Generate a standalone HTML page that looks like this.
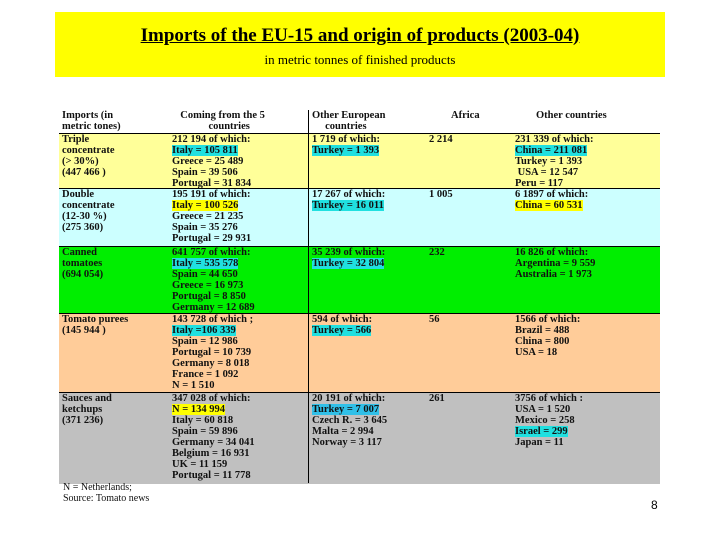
<!DOCTYPE html>
<html><head><meta charset="utf-8"><style>
body{margin:0;width:720px;height:540px;background:#fff;position:relative;overflow:hidden;font-family:"Liberation Serif",serif}
.title{position:absolute;left:55px;top:12px;width:610px;height:65px;background:#ffff00}
.title h1{margin:0;position:absolute;top:13px;width:100%;text-align:center;font-size:19px;line-height:22px;font-weight:bold;text-decoration:underline}
.title p{margin:0;position:absolute;top:40px;width:100%;text-align:center;font-size:13px;line-height:15px}
.row{position:absolute;left:59px;width:601px;border-top:1px solid #000}
.c{position:absolute;top:0px;font-size:10.5px;font-weight:bold;line-height:11px;white-space:pre;color:#111}
.hc{background:#20e0e0}.hy{background:#ffff00}.hb{background:#30c0e8}
.vl{position:absolute;left:308px;top:110px;width:1px;height:373px;background:#000}
.note{position:absolute;left:63px;font-size:10px;color:#111}
</style></head><body>
<div class="title"><h1>Imports of the EU-15 and origin of products (2003-04)</h1><p>in metric tonnes of finished products</p></div>

<div class="row" style="top:110px;height:23px;border-top:none;background:#fff">
<div class="c" style="left:3px">Imports (in
metric tones)</div>
<div class="c" style="left:116px;text-align:center">  Coming from the 5
       countries</div>
<div class="c" style="left:253px">Other European
     countries</div>
<div class="c" style="left:392px">Africa</div>
<div class="c" style="left:477px">Other countries</div></div>

<div class="row" style="top:133px;height:55px;background:#ffff99">
<div class="c" style="left:3px">Triple
concentrate
(> 30%)
(447 466 )</div>
<div class="c" style="left:113px">212 194 of which:
<span class="hc">Italy = 105 811</span>
Greece = 25 489
Spain = 39 506
Portugal = 31 834</div>
<div class="c" style="left:253px">1 719 of which:
<span class="hc">Turkey = 1 393</span></div>
<div class="c" style="left:370px">2 214</div>
<div class="c" style="left:456px">231 339 of which:
<span class="hc">China = 211 081</span>
Turkey = 1 393
 USA = 12 547
Peru = 117</div></div>

<div class="row" style="top:188px;height:57px;background:#ccffff">
<div class="c" style="left:3px">Double
concentrate
(12-30 %)
(275 360)</div>
<div class="c" style="left:113px">195 191 of which:
<span class="hy">Italy = 100 526</span>
Greece = 21 235
Spain = 35 276
Portugal = 29 931</div>
<div class="c" style="left:253px">17 267 of which:
<span class="hc">Turkey = 16 011</span></div>
<div class="c" style="left:370px">1 005</div>
<div class="c" style="left:456px">6 1897 of which:
<span class="hy">China = 60 531</span></div></div>

<div class="row" style="top:246px;height:67px;background:#00ee00">
<div class="c" style="left:3px">Canned
tomatoes
(694 054)</div>
<div class="c" style="left:113px">641 757 of which:
<span class="hc">Italy = 535 578</span>
Spain = 44 650
Greece = 16 973
Portugal = 8 850
Germany = 12 689</div>
<div class="c" style="left:253px">35 239 of which:
<span class="hc">Turkey = 32 804</span></div>
<div class="c" style="left:370px">232</div>
<div class="c" style="left:456px">16 826 of which:
Argentina = 9 559
Australia = 1 973</div></div>

<div class="row" style="top:313px;height:79px;background:#ffcc99">
<div class="c" style="left:3px">Tomato purees
(145 944 )</div>
<div class="c" style="left:113px">143 728 of which ;
<span class="hc">Italy =106 339</span>
Spain = 12 986
Portugal = 10 739
Germany = 8 018
France = 1 092
N = 1 510</div>
<div class="c" style="left:253px">594 of which:
<span class="hc">Turkey = 566</span></div>
<div class="c" style="left:370px">56</div>
<div class="c" style="left:456px">1566 of which:
Brazil = 488
China = 800
USA = 18</div></div>

<div class="row" style="top:392px;height:91px;background:#c0c0c0">
<div class="c" style="left:3px">Sauces and
ketchups
(371 236)</div>
<div class="c" style="left:113px">347 028 of which:
<span class="hy">N = 134 994</span>
Italy = 60 818
Spain = 59 896
Germany = 34 041
Belgium = 16 931
UK = 11 159
Portugal = 11 778</div>
<div class="c" style="left:253px">20 191 of which:
<span class="hb">Turkey = 7 007</span>
Czech R. = 3 645
Malta = 2 994
Norway = 3 117</div>
<div class="c" style="left:370px">261</div>
<div class="c" style="left:456px">3756 of which :
USA = 1 520
Mexico = 258
<span class="hc">Israel = 299</span>
Japan = 11</div></div>

<div class="vl"></div>
<div class="note" style="top:482px">N = Netherlands;</div>
<div class="note" style="top:493px">Source: Tomato news</div>
<div style="position:absolute;left:651px;top:498px;font-size:12px;font-family:'Liberation Sans',sans-serif">8</div>
</body></html>
